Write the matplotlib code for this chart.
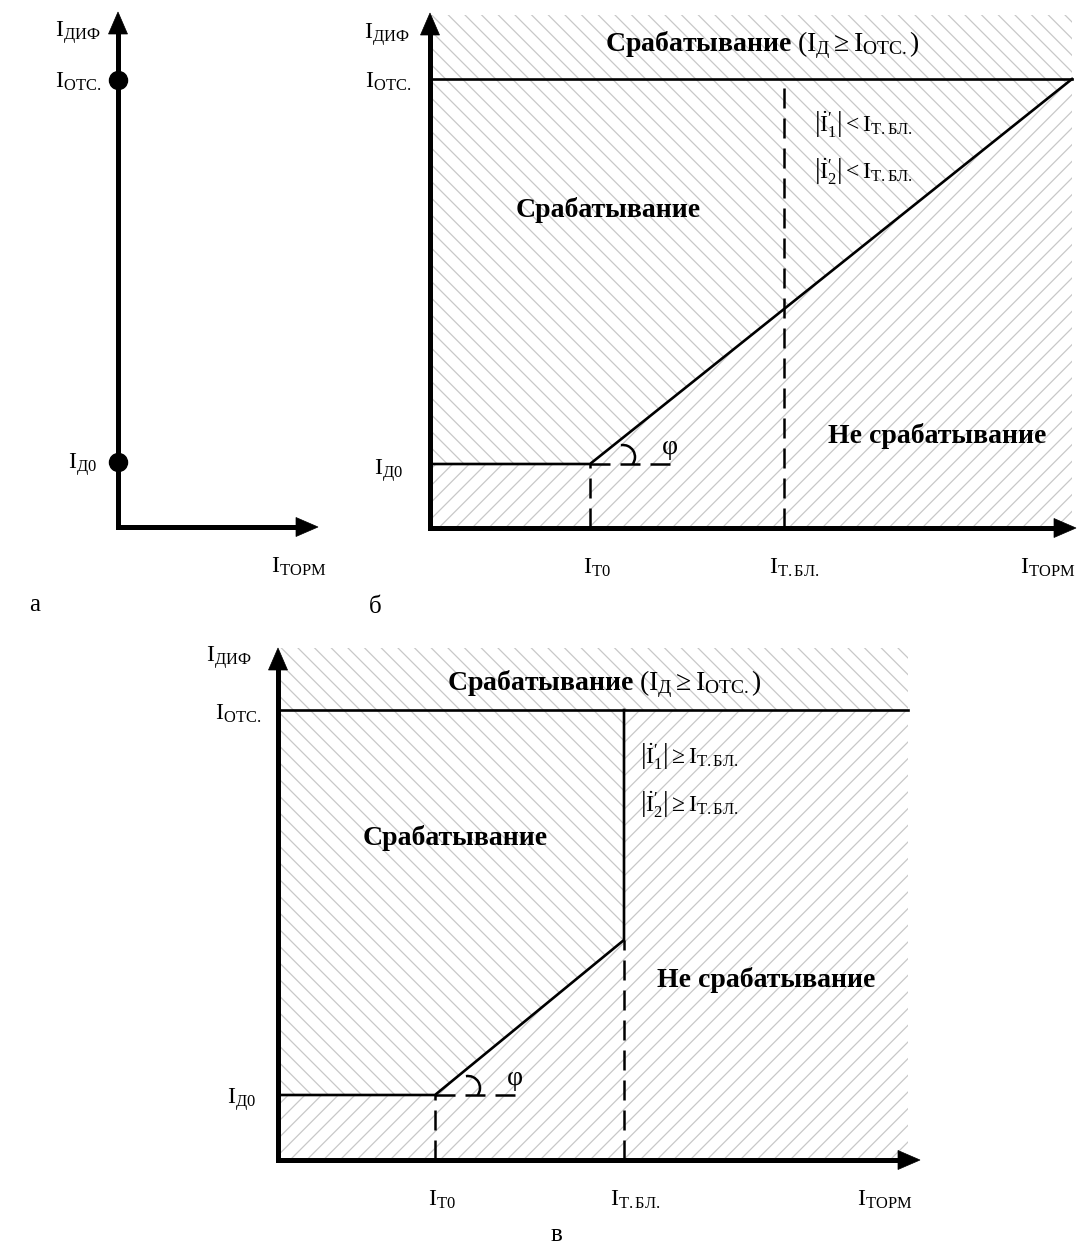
import matplotlib
matplotlib.use("Agg")
import matplotlib.pyplot as plt
from matplotlib.patches import Arc, Polygon

plt.rcParams['font.family'] = ['Liberation Serif', 'DejaVu Serif']
plt.rcParams['mathtext.fontset'] = 'custom'
plt.rcParams['mathtext.rm'] = 'Liberation Serif'
plt.rcParams['mathtext.it'] = 'Liberation Serif:italic'
plt.rcParams['mathtext.bf'] = 'Liberation Serif:bold'
plt.rcParams['hatch.linewidth'] = 0.9
plt.rcParams['hatch.color'] = '#c8c8c8'

# ---------------- data (characteristic values, arbitrary units) ----------------
# panel a
a_axis_x_end = 2.00
a_axis_y_end = 5.15
a_I_D0 = 0.65
a_I_OTC = 4.47

# panel b
b_axis_x_end = 6.46
b_axis_y_end = 5.15
b_x_max = 6.42
b_I_T0 = 1.60
b_I_TBL = 3.54
b_I_D0 = 0.64
b_I_OTC = 4.49
b_top = 5.13

# panel c
c_axis_x_end = 6.42
c_axis_y_end = 5.12
c_x_max = 6.30
c_I_T0 = 1.57
c_I_TBL = 3.46
c_I_D0 = 0.65
c_I_OTC = 4.50
c_I_break = 2.20
c_top = 5.12

# labels
lbl_dif = r'$\mathrm{I}_{\mathrm{ДИФ}}$'
lbl_otc = r'$\mathrm{I}_{\mathrm{ОТС.}}$'
lbl_d0 = r'$\mathrm{I}_{\mathrm{Д0}}$'
lbl_torm = r'$\mathrm{I}_{\mathrm{ТОРМ}}$'
lbl_t0 = r'$\mathrm{I}_{\mathrm{Т0}}$'
lbl_tbl = r'$\mathrm{I}_{\mathrm{Т.БЛ.}}$'
lbl_title = r'$\mathbf{Срабатывание}\ (\mathrm{I}_{\mathrm{Д}}\geq \mathrm{I}_{\mathrm{ОТС.}})$'
lbl_trip = 'Срабатывание'
lbl_notrip = 'Не срабатывание'
b_cond = [r'$\left|\dot{\mathrm{I}}_{1}^{\prime}\right| < \mathrm{I}_{\mathrm{Т.БЛ.}}$',
          r'$\left|\dot{\mathrm{I}}_{2}^{\prime}\right| < \mathrm{I}_{\mathrm{Т.БЛ.}}$']
c_cond = [r'$\left|\dot{\mathrm{I}}_{1}^{\prime}\right| \geq \mathrm{I}_{\mathrm{Т.БЛ.}}$',
          r'$\left|\dot{\mathrm{I}}_{2}^{\prime}\right| \geq \mathrm{I}_{\mathrm{Т.БЛ.}}$']
panel_letters = ['а', 'б', 'в']

# ---------------- figure ----------------
W, H = 1078, 1244
S = 100.0  # pixels per unit
fig = plt.figure(figsize=(W / 100, H / 100), dpi=100)
fig.patch.set_facecolor('white')


def make_ax(ox, oy, xlim, ylim):
    rect = [(ox + xlim[0] * S) / W, (H - oy + ylim[0] * S) / H,
            (xlim[1] - xlim[0]) * S / W, (ylim[1] - ylim[0]) * S / H]
    ax = fig.add_axes(rect)
    ax.set_xlim(*xlim)
    ax.set_ylim(*ylim)
    ax.axis('off')
    return ax


AX_LW = 3.6
LINE_LW = 1.9
HATCH_EC = '#c8c8c8'
LBL_FS = 17
BOLD_FS = 20
COND_FS = 17
HEAD_L = 0.22
HEAD_W = 0.095


def draw_axes(ax, xe, ye):
    ax.plot([0, 0, xe - HEAD_L + 0.02], [ye - HEAD_L + 0.02, 0, 0], color='black', lw=AX_LW,
            solid_joinstyle='miter', solid_capstyle='butt', zorder=5)
    ax.add_patch(Polygon([(0, ye), (-HEAD_W, ye - HEAD_L), (HEAD_W, ye - HEAD_L)],
                         closed=True, fc='black', ec='black', lw=0.5, zorder=6))
    ax.add_patch(Polygon([(xe, 0), (xe - HEAD_L, HEAD_W), (xe - HEAD_L, -HEAD_W)],
                         closed=True, fc='black', ec='black', lw=0.5, zorder=6))


def hatch(ax, xs, ys, pattern):
    ax.fill(xs, ys, facecolor='white', edgecolor=HATCH_EC, hatch=pattern, lw=0, zorder=1)


def angle_mark(ax, t0, d0):
    ax.plot([t0, t0 + 0.88], [d0, d0], color='black', lw=1.8, dashes=(8, 4), zorder=3)
    ax.add_patch(Arc((t0 + 0.33, d0 + 0.07), 0.24, 0.24, theta1=-38, theta2=100,
                     color='black', lw=1.8, zorder=4))
    ax.text(t0 + 0.80, d0 + 0.04, 'φ', fontsize=20, ha='center', va='bottom', zorder=4)


# ---------------- panel a ----------------
axa = make_ax(118, 527, (-1.2, 2.3), (-0.95, 5.3))
draw_axes(axa, a_axis_x_end, a_axis_y_end)
axa.plot([0, 0], [a_I_D0, a_I_OTC], ls='none', marker='o', ms=13, color='black', zorder=7)
axa.text(-0.17, 4.94, lbl_dif, fontsize=LBL_FS, ha='right', va='center')
axa.text(-0.17, a_I_OTC - 0.02, lbl_otc, fontsize=LBL_FS, ha='right', va='center')
axa.text(-0.21, a_I_D0 - 0.03, lbl_d0, fontsize=LBL_FS, ha='right', va='center')
axa.text(1.81, -0.40, lbl_torm, fontsize=LBL_FS, ha='center', va='center')
axa.text(-0.83, -0.78, panel_letters[0], fontsize=LBL_FS + 1, ha='center', va='center')

# ---------------- panel b ----------------
axb = make_ax(430, 528, (-0.8, 6.5), (-0.95, 5.3))
# hatching: top region, trip region (above characteristic), no-trip region (below)
hatch(axb, [0, b_x_max, b_x_max, 0], [b_I_OTC, b_I_OTC, b_top, b_top], '\\\\')
hatch(axb, [0, 0, b_x_max, b_I_T0], [b_I_D0, b_I_OTC, b_I_OTC, b_I_D0], '\\\\')
hatch(axb, [0, 0, b_I_T0, b_x_max, b_x_max], [0, b_I_D0, b_I_D0, b_I_OTC, 0], '//')
axb.plot([0, b_x_max], [b_I_OTC, b_I_OTC], color='black', lw=LINE_LW, zorder=3)
axb.plot([0, b_I_T0, b_x_max], [b_I_D0, b_I_D0, b_I_OTC], color='black', lw=LINE_LW,
         solid_joinstyle='miter', zorder=3)
axb.plot([b_I_T0, b_I_T0], [0, b_I_D0], color='black', lw=1.8, dashes=(8, 4), zorder=3)
axb.plot([b_I_TBL, b_I_TBL], [0, b_I_OTC], color='black', lw=1.8, dashes=(8, 4), zorder=3)
angle_mark(axb, b_I_T0, b_I_D0)
draw_axes(axb, b_axis_x_end, b_axis_y_end)
axb.text(-0.20, 4.93, lbl_dif, fontsize=LBL_FS, ha='right', va='center')
axb.text(-0.19, b_I_OTC - 0.03, lbl_otc, fontsize=LBL_FS, ha='right', va='center')
axb.text(-0.27, b_I_D0 - 0.07, lbl_d0, fontsize=LBL_FS, ha='right', va='center')
axb.text(b_I_T0 + 0.07, -0.40, lbl_t0, fontsize=LBL_FS, ha='center', va='center')
axb.text(b_I_TBL + 0.10, -0.40, lbl_tbl, fontsize=LBL_FS, ha='center', va='center')
axb.text(6.18, -0.40, lbl_torm, fontsize=LBL_FS, ha='center', va='center')
axb.text(-0.55, -0.79, panel_letters[1], fontsize=LBL_FS + 1, ha='center', va='center')
axb.text(3.32, 4.83, lbl_title, fontsize=BOLD_FS, ha='center', va='center', zorder=4)
axb.text(1.78, 3.18, lbl_trip, fontsize=BOLD_FS, fontweight='bold', ha='center', va='center')
axb.text(5.07, 0.92, lbl_notrip, fontsize=BOLD_FS, fontweight='bold', ha='center', va='center')
axb.text(3.84, 4.04, b_cond[0], fontsize=COND_FS, ha='left', va='center')
axb.text(3.84, 3.57, b_cond[1], fontsize=COND_FS, ha='left', va='center')

# ---------------- panel c ----------------
axc = make_ax(278, 1160, (-0.8, 6.5), (-0.85, 5.2))
hatch(axc, [0, c_x_max, c_x_max, 0], [c_I_OTC, c_I_OTC, c_top, c_top], '\\\\')
hatch(axc, [0, 0, c_I_TBL, c_I_TBL, c_I_T0],
      [c_I_D0, c_I_OTC, c_I_OTC, c_I_break, c_I_D0], '\\\\')
hatch(axc, [0, 0, c_I_T0, c_I_TBL, c_I_TBL, c_x_max, c_x_max],
      [0, c_I_D0, c_I_D0, c_I_break, c_I_OTC, c_I_OTC, 0], '//')
axc.plot([0, c_x_max], [c_I_OTC, c_I_OTC], color='black', lw=LINE_LW, zorder=3)
axc.plot([0, c_I_T0, c_I_TBL, c_I_TBL], [c_I_D0, c_I_D0, c_I_break, c_I_OTC],
         color='black', lw=LINE_LW, solid_joinstyle='miter', zorder=3)
axc.plot([c_I_T0, c_I_T0], [0, c_I_D0], color='black', lw=1.8, dashes=(8, 4), zorder=3)
axc.plot([c_I_TBL, c_I_TBL], [0, c_I_break], color='black', lw=1.8, dashes=(8, 4), zorder=3)
angle_mark(axc, c_I_T0, c_I_D0)
draw_axes(axc, c_axis_x_end, c_axis_y_end)
axc.text(-0.26, 5.02, lbl_dif, fontsize=LBL_FS, ha='right', va='center')
axc.text(-0.17, c_I_OTC - 0.04, lbl_otc, fontsize=LBL_FS, ha='right', va='center')
axc.text(-0.22, c_I_D0 - 0.05, lbl_d0, fontsize=LBL_FS, ha='right', va='center')
axc.text(c_I_T0 + 0.07, -0.40, lbl_t0, fontsize=LBL_FS, ha='center', va='center')
axc.text(c_I_TBL + 0.11, -0.40, lbl_tbl, fontsize=LBL_FS, ha='center', va='center')
axc.text(6.07, -0.40, lbl_torm, fontsize=LBL_FS, ha='center', va='center')
axc.text(2.78, -0.75, panel_letters[2], fontsize=LBL_FS + 1, ha='center', va='center')
axc.text(3.26, 4.76, lbl_title, fontsize=BOLD_FS, ha='center', va='center', zorder=4)
axc.text(1.77, 3.22, lbl_trip, fontsize=BOLD_FS, fontweight='bold', ha='center', va='center')
axc.text(4.88, 1.80, lbl_notrip, fontsize=BOLD_FS, fontweight='bold', ha='center', va='center')
axc.text(3.62, 4.04, c_cond[0], fontsize=COND_FS, ha='left', va='center')
axc.text(3.62, 3.56, c_cond[1], fontsize=COND_FS, ha='left', va='center')

fig.savefig('out.png', dpi=100, facecolor='white')
